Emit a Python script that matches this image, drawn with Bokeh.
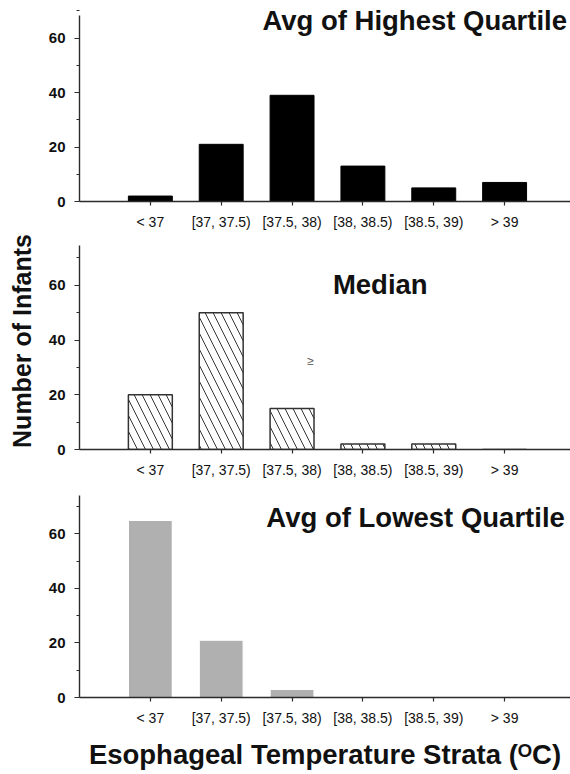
from bokeh.plotting import figure
from bokeh.models import Range1d, FixedTicker, Label, ColumnDataSource
from bokeh.layouts import column
from bokeh.embed import file_html
from bokeh.resources import INLINE

# ---- data ----
categories = ["< 37", "[37, 37.5)", "[37.5, 38)", "[38, 38.5)", "[38.5, 39)", "> 39"]
highest_quartile = [2, 21, 39, 13, 5, 7]
median_values = [20, 50, 15, 2, 2, 0]
lowest_quartile = [65, 21, 3, 0, 0, 0]
y_major_ticks = [0, 20, 40, 60]
y_minor_ticks = [10, 30, 50, 70]
titles = ["Avg of Highest Quartile", "Median", "Avg of Lowest Quartile"]
y_label = "Number of Infants"
x_label = "Esophageal Temperature Strata (\u1d3cC)"

positions = [i + 1 for i in range(len(categories))]

FONT = "Liberation Sans"
AXIS_COLOR = "#2b2b2b"


def make_panel(values, height, y_end, y_bound, border_bottom, bar_style):
    p = figure(width=570, height=height,
               x_range=Range1d(0, 6.93), y_range=Range1d(0, y_end),
               output_backend="svg", toolbar_location=None,
               min_border_left=79, min_border_right=0,
               min_border_top=0, min_border_bottom=border_bottom)
    p.outline_line_color = None
    p.xgrid.visible = False
    p.ygrid.visible = False
    p.background_fill_color = "white"
    p.border_fill_color = "white"

    src = ColumnDataSource(dict(x=positions, top=values))
    p.vbar(x="x", top="top", bottom=0, width=0.62, source=src, **bar_style)

    xa = p.xaxis[0]
    xa.ticker = FixedTicker(ticks=positions)
    xa.major_label_overrides = {pos: cat for pos, cat in zip(positions, categories)}
    xa.axis_line_color = AXIS_COLOR
    xa.axis_line_width = 1.4
    xa.major_tick_line_color = AXIS_COLOR
    xa.major_tick_line_width = 1.2
    xa.major_tick_in = 0
    xa.major_tick_out = 4
    xa.minor_tick_line_color = None
    xa.major_label_standoff = 8
    xa.major_label_text_font = FONT
    xa.major_label_text_font_size = "14px"
    xa.major_label_text_color = "#111111"

    ya = p.yaxis[0]
    ya.ticker = FixedTicker(ticks=y_major_ticks, minor_ticks=y_minor_ticks)
    ya.bounds = (0, y_bound)
    ya.axis_line_color = AXIS_COLOR
    ya.axis_line_width = 1.4
    ya.major_tick_line_color = AXIS_COLOR
    ya.major_tick_line_width = 1.2
    ya.minor_tick_line_color = AXIS_COLOR
    ya.major_tick_in = 0
    ya.major_tick_out = 5
    ya.minor_tick_in = 0
    ya.minor_tick_out = 3
    ya.major_label_standoff = 9
    ya.major_label_text_font = FONT
    ya.major_label_text_font_size = "15px"
    ya.major_label_text_font_style = "bold"
    ya.major_label_text_color = "#111111"
    return p


def add_title(p, text, x, y, align):
    p.add_layout(Label(x=x, y=y, text=text, text_align=align,
                       text_baseline="middle", text_font=FONT,
                       text_font_size="27.5px", text_font_style="bold",
                       text_color="#111111"))


p1 = make_panel(highest_quartile, 232, 73.82, 68.3, 29,
                dict(fill_color="black", line_color="black", line_width=1))
add_title(p1, titles[0], 6.88, 66.3, "right")

p2 = make_panel(median_values, 248, 79.27, 74.4, 30,
                dict(fill_color="white", line_color="#333333", line_width=1.5,
                     hatch_pattern="\\", hatch_color="#333333",
                     hatch_weight=1, hatch_scale=16))
add_title(p2, titles[1], 4.245, 60.3, "center")
p2.add_layout(Label(x=3.26, y=32.2, text="\u2265", text_align="center",
                    text_baseline="middle", text_font=FONT,
                    text_font_size="12px", text_color="#555555"))
p2.yaxis[0].axis_label = y_label
p2.yaxis[0].axis_label_text_font = FONT
p2.yaxis[0].axis_label_text_font_size = "25px"
p2.yaxis[0].axis_label_text_font_style = "bold"
p2.yaxis[0].axis_label_text_color = "#111111"
p2.yaxis[0].axis_label_standoff = 10

p3 = make_panel(lowest_quartile, 292, 79.6, 74.0, 73,
                dict(fill_color="#b0b0b0", line_color="white", line_width=1.2))
add_title(p3, titles[2], 6.85, 66.1, "right")
p3.xaxis[0].axis_label = x_label
p3.xaxis[0].axis_label_text_font = FONT
p3.xaxis[0].axis_label_text_font_size = "27.5px"
p3.xaxis[0].axis_label_text_font_style = "bold"
p3.xaxis[0].axis_label_text_color = "#111111"
p3.xaxis[0].axis_label_standoff = 10

layout = column(p1, p2, p3, spacing=0)

open("out.html", "w").write(file_html(layout, INLINE))
